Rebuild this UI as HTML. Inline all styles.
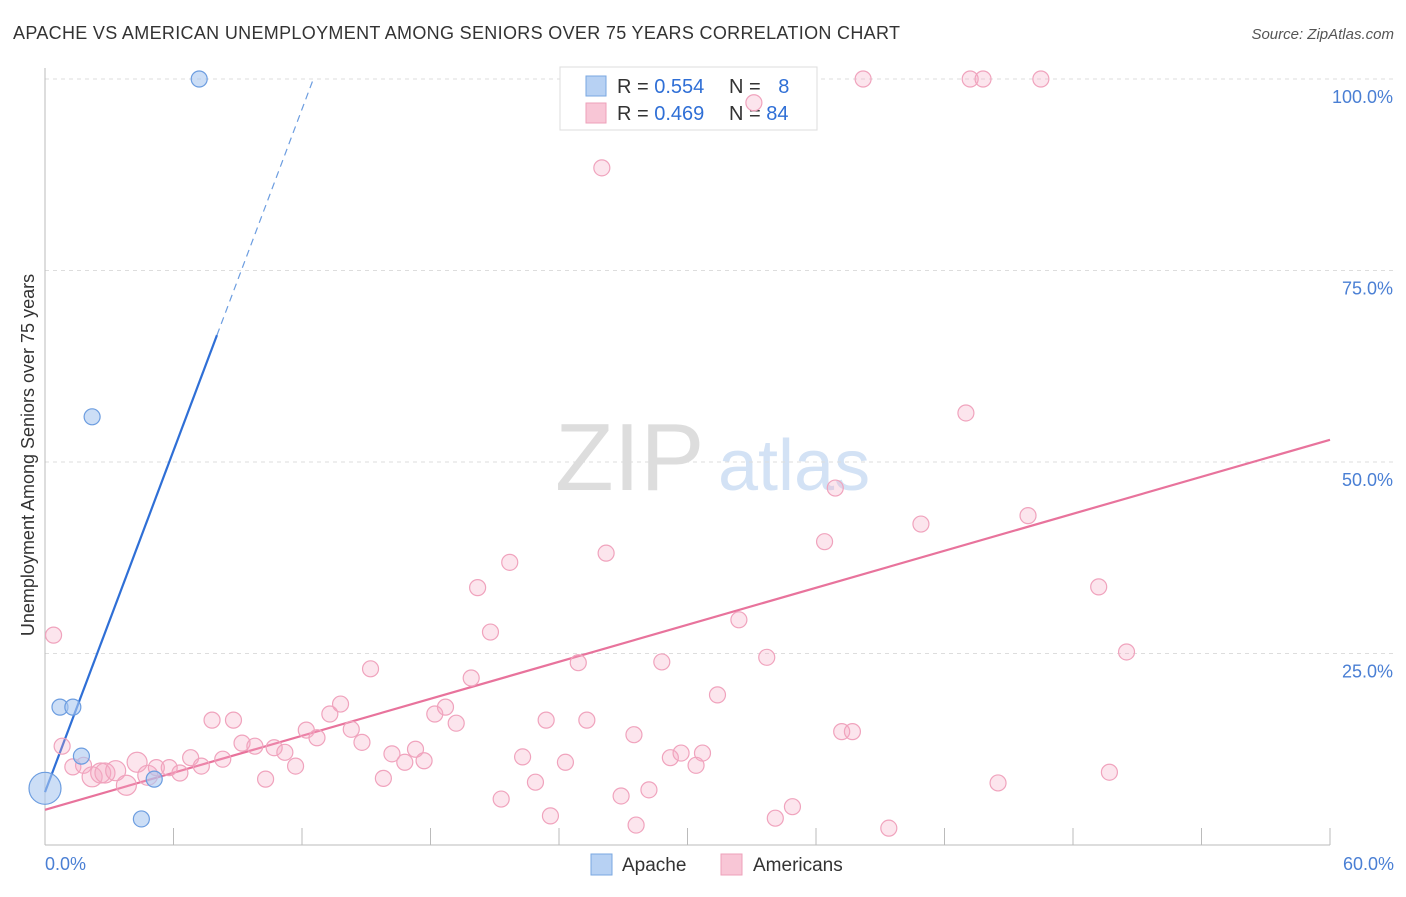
<!DOCTYPE html>
<html><head><meta charset="utf-8"><style>
body{margin:0;background:#fff;font-family:"Liberation Sans",sans-serif}
svg text{font-family:"Liberation Sans",sans-serif}
</style></head><body>
<svg id="chart" width="1406" height="892" viewBox="0 0 1406 892" xmlns="http://www.w3.org/2000/svg">
<text x="13" y="39" font-size="18" fill="#333" textLength="887">APACHE VS AMERICAN UNEMPLOYMENT AMONG SENIORS OVER 75 YEARS CORRELATION CHART</text>
<text x="1394" y="39" font-size="15" fill="#555" font-style="italic" text-anchor="end">Source: ZipAtlas.com</text>
<g>
<text x="555" y="490" font-size="96" fill="#ddd" font-family="Liberation Serif, serif">ZIP</text>
<text x="718" y="490" font-size="72" fill="#d3e2f5">atlas</text>
</g>
<g id="grid"></g>
<g id="axes"></g>
<g>
<rect x="560" y="67" width="257" height="63" fill="#fff" stroke="#ddd"/>
<rect x="586" y="76" width="20" height="20" fill="#b7d1f3" stroke="#7aa7e0"/>
<rect x="586" y="103" width="20" height="20" fill="#f8c6d6" stroke="#eea0ba"/>
<text x="617" y="93" font-size="20" fill="#333">R = <tspan fill="#2f6fd6">0.554</tspan></text>
<text x="729" y="93" font-size="20" fill="#333">N = <tspan fill="#2f6fd6" dx="12">8</tspan></text>
<text x="617" y="120" font-size="20" fill="#333">R = <tspan fill="#2f6fd6">0.469</tspan></text>
<text x="729" y="120" font-size="20" fill="#333">N = <tspan fill="#2f6fd6">84</tspan></text>
</g>
<g id="lines"></g>
<g id="pts"></g>
<text transform="translate(34,455) rotate(-90)" font-size="18" fill="#333" text-anchor="middle">Unemployment Among Seniors over 75 years</text>
<g>
<rect x="591" y="854" width="21" height="21" fill="#b7d1f3" stroke="#7aa7e0"/>
<text x="622" y="871" font-size="19" fill="#333">Apache</text>
<rect x="721" y="854" width="21" height="21" fill="#f8c6d6" stroke="#eea0ba"/>
<text x="753" y="871" font-size="19" fill="#333">Americans</text>
</g>
</svg>
<script>
const yTicks=[25,50,75,100];
const yTickLabels=["25.0%","50.0%","75.0%","100.0%"];
const apacheX=[0,0.7,1.3,1.7,2.2,4.5,5.1,7.2];
const apacheY=[7.4,18,18,11.6,55.9,3.4,8.6,100];
const apacheR=[16,8,8,8,8,8,8,8];
const amerX=[0.4,0.8,1.3,1.8,2.2,2.6,2.8,3.3,3.8,4.3,4.8,5.2,5.8,6.3,6.8,7.3,7.8,8.3,8.8,9.2,9.8,10.3,10.7,11.2,11.7,12.2,12.7,13.3,13.8,14.3,14.8,15.2,15.8,16.2,16.8,17.3,17.7,18.2,18.7,19.2,19.9,20.2,20.8,21.3,21.7,22.3,22.9,23.4,23.6,24.3,24.9,25.3,26.0,26.2,26.9,27.5,27.6,28.2,28.8,29.2,29.7,30.4,30.7,31.4,32.4,33.1,33.7,34.1,34.9,36.4,36.9,37.2,37.7,38.2,39.4,40.9,43.0,43.2,43.8,44.5,45.9,46.5,49.2,49.7,50.5];
const amerY=[27.4,12.9,10.2,10.4,8.9,9.4,9.4,9.7,7.8,10.8,9.1,10.1,10.1,9.4,11.4,10.3,16.3,11.2,16.3,13.3,12.9,8.6,12.7,12.1,10.3,15.0,14.0,17.1,18.4,15.1,13.4,23.0,8.7,11.9,10.8,12.5,11.0,17.1,18.0,15.9,21.8,33.6,27.8,6.0,36.9,11.5,8.2,16.3,3.8,10.8,23.8,16.3,88.4,38.1,6.4,14.4,2.6,7.2,23.9,11.4,12.0,10.4,12.0,19.6,29.4,96.9,24.5,3.5,5.0,39.6,46.6,14.8,14.8,100,2.2,41.9,56.4,100,100,8.1,43.0,100,33.7,9.5,25.2];
const amerBig=[4,5,6,7,8,9,10];
const apacheTrend=[6.9,7.43];
const amerTrend=[4.6,0.805];
const NS="http://www.w3.org/2000/svg";
const X0=45,X1=1330,XMAX=60,Y0=845,Y100=79;
const sx=v=>X0+v/XMAX*(X1-X0);
const sy=v=>Y0-v/100*(Y0-Y100);
function mk(tag,attrs,parent){const e=document.createElementNS(NS,tag);for(const k in attrs)e.setAttribute(k,attrs[k]);document.getElementById(parent).appendChild(e);return e;}
yTicks.forEach((t,i)=>{
 const l=mk('line',{x1:X0,x2:1394,y1:sy(t),y2:sy(t),stroke:'#ddd','stroke-dasharray':'4,4'},'grid');
 
 
 const tx=mk('text',{x:1393,y:sy(t)+24,'font-size':18,fill:'#4a7fd4','text-anchor':'end'},'grid');
 tx.textContent=yTickLabels[i];
 
 
});
const ax=mk('line',{x1:X0,x2:X1,y1:Y0,y2:Y0,stroke:'#bbb'},'axes');


const ay=mk('line',{x1:X0,x2:X0,y1:68,y2:Y0,stroke:'#bbb'},'axes');


for(let v=6;v<=60;v+=6){const t=mk('line',{x1:sx(v),x2:sx(v),y1:828,y2:Y0,stroke:'#bbb'},'axes');
 
 }
const xl0=mk('text',{x:45,y:870,'font-size':18,fill:'#4a7fd4'},'axes');xl0.textContent='0.0%';


const xl1=mk('text',{x:1394,y:870,'font-size':18,fill:'#4a7fd4','text-anchor':'end'},'axes');xl1.textContent='60.0%';


amerX.forEach((x,i)=>{const c=mk('circle',{cx:sx(x),cy:sy(amerY[i]),r:amerBig.includes(i)?10:8,fill:'rgba(246,170,196,0.3)',stroke:'#f0a3bd','stroke-width':1.2},'pts');
 
 });
apacheX.forEach((x,i)=>{const c=mk('circle',{cx:sx(x),cy:sy(apacheY[i]),r:apacheR[i],fill:'rgba(170,200,240,0.6)',stroke:'#6c9de0','stroke-width':1.2},'pts');
 
 });
const ya=x=>apacheTrend[0]+apacheTrend[1]*x;
const xEnd=(100-apacheTrend[0])/apacheTrend[1];
const la=mk('line',{x1:sx(0),y1:sy(ya(0)),x2:sx(8.03),y2:sy(ya(8.03)),stroke:'#2f6fd6','stroke-width':2.2},'lines');


const ld=mk('line',{x1:sx(8.03),y1:sy(ya(8.03)),x2:sx(xEnd),y2:sy(100),stroke:'#6c9de0','stroke-width':1.2,'stroke-dasharray':'7,5'},'lines');


const lp=mk('line',{x1:sx(0),y1:sy(amerTrend[0]),x2:sx(60),y2:sy(amerTrend[0]+amerTrend[1]*60),stroke:'#e8739c','stroke-width':2.2},'lines');


</script>
</body></html>
